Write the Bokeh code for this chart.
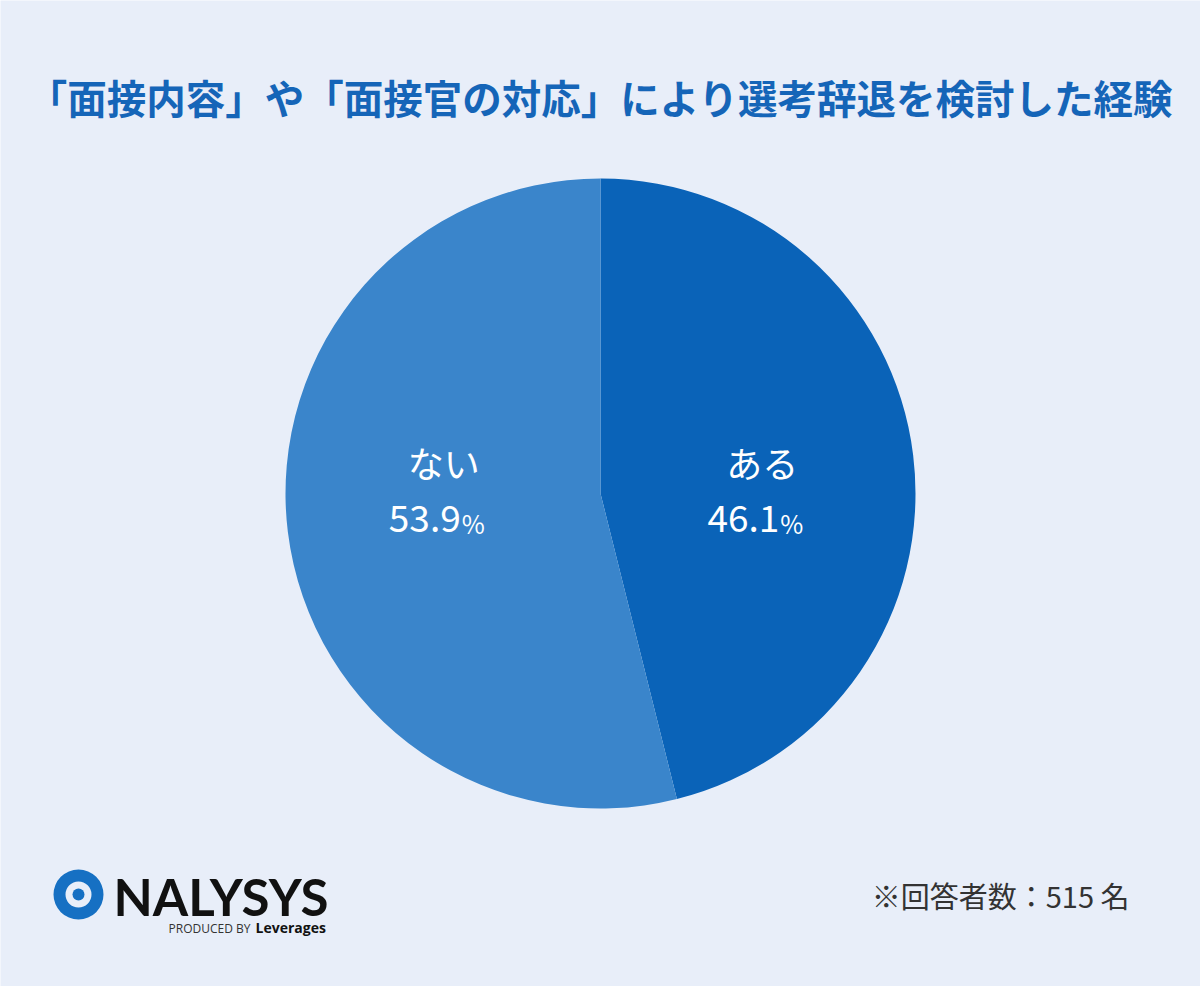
import math
from bokeh.plotting import figure
from bokeh.models import Range1d
from bokeh.core.properties import value
from bokeh.embed import file_html
from bokeh.resources import INLINE

# ---- data ----
categories = ["ある", "ない"]
percents = [46.1, 53.9]
respondents = 515
title_text = "「面接内容」や「面接官の対応」により選考辞退を検討した経験"

W, H = 1200, 986
BG = "#E8EEF9"
COLORS = ["#0A63B8", "#3A85CB"]
FONT = "Noto Sans CJK JP"

p = figure(width=W, height=H, output_backend="svg", toolbar_location=None,
           x_range=Range1d(0, W), y_range=Range1d(0, H),
           min_border=0, outline_line_color=None)
p.axis.visible = False
p.grid.visible = False
p.background_fill_color = BG
p.border_fill_color = BG

def Y(py):
    return H - py

cx, cy, r = 600, Y(493), 315

# wedges, clockwise from top
total = sum(percents)
start = math.pi / 2
mids = []
for cat, pct, col in zip(categories, percents, COLORS):
    sweep = 2 * math.pi * pct / total
    end = start - sweep
    p.wedge(x=cx, y=cy, radius=r, start_angle=end, end_angle=start,
            fill_color=col, line_color=None)
    mids.append((start + end) / 2)
    start = end

# labels (placed horizontally from each slice's mid angle, at centre height)
lr = 163
for cat, pct, mid in zip(categories, percents, mids):
    lx = cx + lr * math.cos(mid) + (5 if math.cos(mid) < 0 else 0)
    ly = cy
    p.text(x=[lx], y=[ly + 32], text=[cat], text_align="center",
           text_baseline="middle", text_color="white",
           text_font=value(FONT), text_font_size="36px")
    p.text(x=[lx + 17], y=[ly - 25], text=[f"{pct:.1f}"], text_align="right",
           text_baseline="middle", text_color="white",
           text_font=value(FONT), text_font_size="37px")
    p.text(x=[lx + 18], y=[ly - 29], text=["%"], text_align="left",
           text_baseline="middle", text_color="white",
           text_font=value(FONT), text_font_size="25px")

# title
p.text(x=[W / 2], y=[Y(96)], text=[title_text], text_align="center",
       text_baseline="middle", text_color="#1565B8",
       text_font=value(FONT), text_font_size="39.5px", text_font_style="bold")

# footnote
p.text(x=[1129], y=[Y(894)], text=[f"※回答者数：{respondents} 名"],
       text_align="right", text_baseline="middle", text_color="#333333",
       text_font=value(FONT), text_font_size="29px")

# logo
p.annulus(x=[78], y=[Y(894)], inner_radius=13, outer_radius=25,
          fill_color="#1670C3", line_color=None)
p.circle(x=[78], y=[Y(894)], radius=6, fill_color="#1670C3", line_color=None)
p.text(x=[113], y=[Y(896)], text=["NALYSYS"], text_align="left",
       text_baseline="middle", text_color="#111111",
       text_font=value("Lato"), text_font_size="51px", text_font_style="bold")
p.text(x=[168], y=[Y(928)], text=["PRODUCED BY"], text_align="left",
       text_baseline="middle", text_color="#333333",
       text_font=value("Open Sans"), text_font_size="12px")
p.text(x=[255], y=[Y(927)], text=["Leverages"], text_align="left",
       text_baseline="middle", text_color="#111111",
       text_font=value("Open Sans"), text_font_size="14px", text_font_style="bold")

open("out.html", "w").write(file_html(p, INLINE))
